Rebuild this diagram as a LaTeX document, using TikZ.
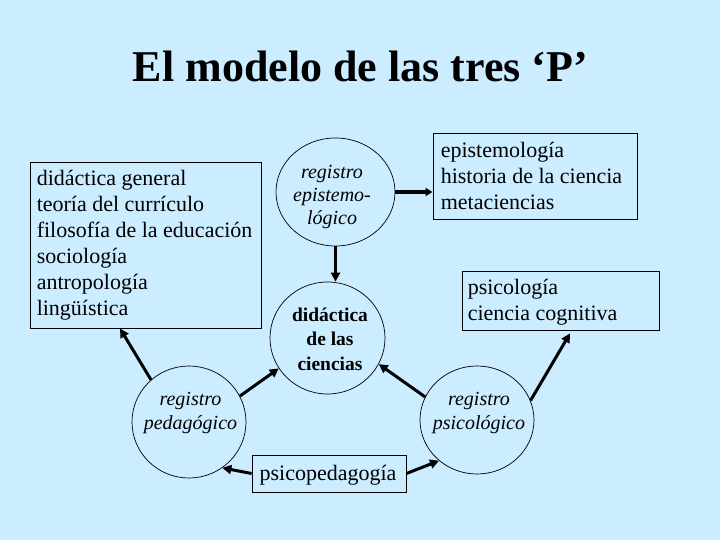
\documentclass[tikz,border=0pt]{standalone}
\usepackage{fontspec}
\setmainfont{Liberation Serif}
\usetikzlibrary{shapes.geometric,arrows.meta,calc}
\definecolor{bg}{RGB}{204,236,255}
\begin{document}
\begin{tikzpicture}[x=1pt,y=-1pt,
  box/.style={draw, line width=0.9pt, inner sep=0pt},
  boxtext/.style={anchor=west, inner sep=0pt, align=left, font=\fontsize{22}{26}\selectfont},
  reg/.style={draw, ellipse, line width=0.7pt, inner sep=0pt},
  regtext/.style={align=center, font=\fontsize{20}{24}\selectfont\itshape},
  arr/.style={line width=3pt, -{Triangle[length=9pt,width=9pt]}}]
\fill[bg] (0,0) rectangle (720,540);
\useasboundingbox (0,0) rectangle (720,540);

\node[font=\fontsize{44}{50}\selectfont\bfseries, anchor=base] (title) at (360.5,82) {El modelo de las tres ‘P’};

\node[box, minimum width=231pt, minimum height=166pt] (pedbox) at (145.5,245) {};
\node[boxtext] (pedboxt) at ($(pedbox.west)+(7,0)$)
  {didáctica general\\teoría del currículo\\filosofía de la educación\\sociología\\antropología\\lingüística};
\node[box, minimum width=204pt, minimum height=86pt] (epibox) at (535,176) {};
\node[boxtext] (epiboxt) at ($(epibox.west)+(8,0)$)
  {epistemología\\historia de la ciencia\\metaciencias};
\node[box, minimum width=197pt, minimum height=59pt] (psibox) at (560.5,300.5) {};
\node[boxtext] (psiboxt) at ($(psibox.west)+(6,2)$)
  {psicología\\ciencia cognitiva};
\node[box, minimum width=154pt, minimum height=37pt] (psicoped) at (329,473.5) {};
\node[font=\fontsize{22}{26}\selectfont, inner sep=0pt] (psicopedt) at (328,475) {psicopedagogía};

\node[reg, minimum width=119pt, minimum height=108pt] (epi) at (335.5,192) {};
\node[regtext, font=\fontsize{20}{23}\selectfont\itshape] (epit) at (332,197.4) {registro\\epistemo-\\lógico};
\node[reg, minimum width=115pt, minimum height=112pt] (did) at (327.5,338) {};
\node[align=center, font=\fontsize{19.5}{24.5}\selectfont\bfseries] (didt) at (330,339) {didáctica\\de las\\ciencias};
\node[reg, minimum width=114pt, minimum height=112pt] (ped) at (189,422) {};
\node[regtext] (pedt) at (190.5,413.4) {registro\\pedagógico};
\node[reg, minimum width=114pt, minimum height=108pt] (psi) at (477,420) {};
\node[regtext] (psit) at (479,413.4) {registro\\psicológico};

\draw[line width=4pt, -{Triangle[length=7pt,width=8pt]}] (epi.east) -- (epi.east -| epibox.west);
\draw[arr] (epi.south) -- (epi.south |- did.north);
\draw[arr] (ped.132) -- ($(pedbox.south west)!0.39!(pedbox.south east)$);
\draw[arr] (ped.27) -- (did.212);
\draw[arr] (psi.156) -- (did.333);
\draw[arr] (psi.20) -- ($(psibox.south west)!0.548!(psibox.south east)+(0,3)$);
\draw[arr] (psicoped.west) -- (ped.306);
\draw[arr] (psicoped.east) -- (psi.227);
\end{tikzpicture}
\end{document}
